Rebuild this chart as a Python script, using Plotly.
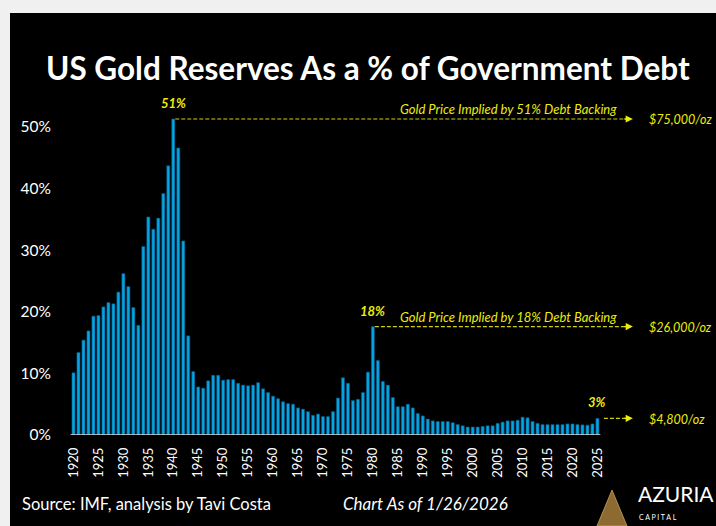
import plotly.graph_objects as go

# ---------------- data ----------------
years = list(range(1920, 2026))
gold_pct_of_debt = [
    10.1, 13.4, 15.4, 16.9, 19.3, 19.4, 20.8, 21.5, 21.3, 23.2,   # 1920s
    26.2, 24.1, 20.7, 17.8, 30.6, 35.4, 33.4, 35.2, 39.2, 43.7,   # 1930s
    51.3, 46.6, 31.5, 16.1, 10.3, 7.8, 7.6, 8.8, 9.7, 9.7,        # 1940s
    8.9, 9.0, 9.0, 8.4, 8.1, 8.0, 8.1, 8.5, 7.5, 6.9,             # 1950s
    6.3, 5.9, 5.4, 5.1, 5.0, 4.4, 4.2, 3.8, 3.2, 3.4,             # 1960s
    3.0, 3.0, 3.8, 6.0, 9.3, 8.4, 5.6, 5.8, 6.9, 10.2,            # 1970s
    17.6, 12.1, 8.7, 8.1, 6.1, 4.6, 4.6, 5.0, 4.4, 3.5,           # 1980s
    3.1, 2.6, 2.3, 2.2, 2.2, 2.2, 2.0, 1.7, 1.5, 1.3,             # 1990s
    1.3, 1.3, 1.4, 1.5, 1.5, 1.9, 2.1, 2.3, 2.3, 2.4,             # 2000s
    2.9, 2.8, 2.2, 1.9, 1.7, 1.7, 1.7, 1.7, 1.7, 1.8,             # 2010s
    1.8, 1.7, 1.65, 1.6, 1.8, 2.7,                                # 2020s
]
y_ticks = [0, 10, 20, 30, 40, 50]
y_tick_labels = ["0%", "10%", "20%", "30%", "40%", "50%"]
x_ticks = list(range(1920, 2026, 5))
x_tick_labels = [str(t) for t in x_ticks]

# highlighted points: (year, label, caption, implied price)
highlights = [
    (1940, "51%", "Gold Price Implied by 51% Debt Backing", "$75,000/oz"),
    (1980, "18%", "Gold Price Implied by 18% Debt Backing", "$26,000/oz"),
    (2025, "3%", None, "$4,800/oz"),
]

title_text = "US Gold Reserves As a % of Government Debt"
source_text = "Source: IMF, analysis by Tavi Costa"
date_text = "Chart As of 1/26/2026"

# ---------------- layout geometry ----------------
W, H = 716, 526
ML, MR, MT, MB = 62, 16, 90, 91
PW, PH = W - ML - MR, H - MT - MB
X0, X1 = 1917.7, 1917.7 + PW / 4.99
Y0, Y1 = 0, PH / 6.16


def px(xp):
    return (xp - ML) / PW


def py(yp):
    return (H - MB - yp) / PH


YELLOW = "#EDED0C"
DASH = "#CFCF10"
FONT = "Lato"

val = dict(zip(years, gold_pct_of_debt))

fig = go.Figure()
fig.add_trace(go.Bar(
    x=years, y=gold_pct_of_debt, width=0.62,
    marker=dict(color="#05A4E2", line=dict(color="#064F78", width=0.6)),
    hoverinfo="x+y",
))

shapes = []
annotations = []

# page border (light grey strips top / left)
shapes.append(dict(type="rect", xref="paper", yref="paper", x0=px(0), x1=px(W),
                   y0=py(13), y1=py(0), fillcolor="#F0F0F0", line_width=0, layer="above"))
shapes.append(dict(type="rect", xref="paper", yref="paper", x0=px(0), x1=px(10),
                   y0=py(H), y1=py(0), fillcolor="#F0F0F0", line_width=0, layer="above"))

# baseline
shapes.append(dict(type="line", xref="x", yref="y", x0=1919.4, x1=2025.6, y0=0, y1=0,
                   line=dict(color="#DADADA", width=1.5)))

end_line = 2030.7
arrow_tip = 2032.1
price_x = 2035.0
for yr, lab, cap, price in highlights:
    v = val[yr]
    start = yr + 0.4 if cap else 2026.3
    shapes.append(dict(type="line", xref="x", yref="y", x0=start, x1=end_line, y0=v, y1=v,
                       line=dict(color=DASH, width=1.2, dash="4px,2px")))
    annotations.append(dict(x=arrow_tip, y=v, ax=end_line - 0.6, ay=v, xref="x", yref="y",
                            axref="x", ayref="y", text="", showarrow=True, arrowhead=2,
                            arrowsize=1.1, arrowwidth=1.3, arrowcolor=YELLOW))
    annotations.append(dict(x=yr, y=v, xref="x", yref="y", text=lab, showarrow=False,
                            yanchor="bottom", yshift=6,
                            font=dict(family=FONT, size=13, color=YELLOW, weight="bold",
                                      style="italic")))
    annotations.append(dict(x=price_x, y=v, xref="x", yref="y", text=price, showarrow=False,
                            xanchor="left", yshift=-1,
                            font=dict(family=FONT, size=12.5, color=YELLOW, style="italic")))
    if cap:
        annotations.append(dict(x=2007.1, y=v, xref="x", yref="y", text=cap, showarrow=False,
                                yshift=10,
                                font=dict(family=FONT, size=13, color=YELLOW, style="italic")))

# title and footer
annotations.append(dict(x=px(368), y=py(47), xref="paper", yref="paper", text=title_text,
                        showarrow=False, font=dict(family=FONT, size=31.5, color="white",
                                                   weight="bold")))
annotations.append(dict(x=px(20), y=py(516), xref="paper", yref="paper", text=source_text,
                        showarrow=False, xanchor="left",
                        font=dict(family=FONT, size=16.5, color="white")))
annotations.append(dict(x=px(341), y=py(516), xref="paper", yref="paper", text=date_text,
                        showarrow=False, xanchor="left",
                        font=dict(family=FONT, size=17, color="white", style="italic")))

# logo
shapes.append(dict(type="path", xref="paper", yref="paper",
                   path=f"M {px(597)} {py(526)} L {px(612)} {py(490)} L {px(627)} {py(526)} Z",
                   fillcolor="#8C6A32", line=dict(color="#C9A55A", width=0.8)))
annotations.append(dict(x=px(636), y=py(508), xref="paper", yref="paper", text="AZURIA",
                        showarrow=False, xanchor="left",
                        font=dict(family=FONT, size=21, color="white")))
annotations.append(dict(x=px(637), y=py(523), xref="paper", yref="paper",
                        text="C A P I T A L", showarrow=False, xanchor="left",
                        font=dict(family=FONT, size=7, color="white")))

fig.update_layout(
    width=W, height=H,
    margin=dict(l=ML, r=MR, t=MT, b=MB, pad=0),
    paper_bgcolor="black", plot_bgcolor="black",
    showlegend=False, bargap=0.38,
    shapes=shapes, annotations=annotations,
    xaxis=dict(range=[X0, X1], tickmode="array", tickvals=x_ticks, ticktext=x_tick_labels,
               tickangle=-90, showgrid=False, zeroline=False, showline=False, ticks="",
               ticklabelstandoff=9,
               tickfont=dict(family=FONT, size=13, color="white")),
    yaxis=dict(range=[Y0, Y1], tickmode="array", tickvals=y_ticks, ticktext=y_tick_labels,
               showgrid=False, zeroline=False, showline=False, ticks="", ticklabelstandoff=10,
               tickfont=dict(family=FONT, size=15.5, color="white")),
)

fig.write_html("out.html", config={"displayModeBar": False},
               post_script="document.body.style.margin='0px';")
